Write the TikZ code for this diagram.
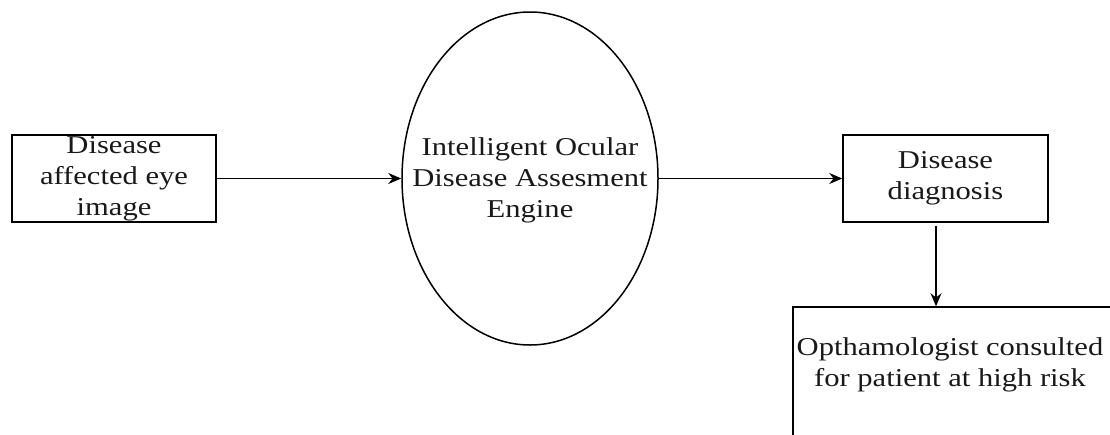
\documentclass[tikz,border=0pt]{standalone}
\usepackage{fontspec}
\setmainfont[FakeStretch=1.19]{Liberation Serif}
\usetikzlibrary{shapes.geometric,arrows.meta,calc}
\begin{document}
\begin{tikzpicture}[x=1pt,y=-1pt,
  txt/.style={font=\fontsize{25.7pt}{31pt}\selectfont, align=center, text=black!90},
  boxnode/.style={draw, line width=1.5pt, inner sep=0pt, txt},
  conn/.style={line width=1.5pt, -{Stealth[length=13pt,width=11pt]}}]
\useasboundingbox (0,0) rectangle (1110,434);
\clip (0,0) rectangle (1110,434);
\node[boxnode, minimum width=204pt, minimum height=87pt] (img) at (114,178.5)
  {Disease\\affected eye\\image};
\node[boxnode, ellipse, minimum width=256pt, minimum height=333pt] (eng) at (530,178.5) {};
\node[txt] (engt) at (530,180) {Intelligent Ocular\\Disease Assesment\\Engine};
\node[boxnode, minimum width=205pt, minimum height=87pt] (diag) at (945.5,178.5)
  {Disease\\diagnosis};
\node[boxnode, minimum width=322pt, minimum height=136pt] (opt) at (954,375) {};
\node[txt] (optt) at (950,365) {Opthamologist consulted\\for patient at high risk};
\draw[conn] (img.east) -- (eng.west);
\draw[conn] (eng.east) -- (diag.west);
\coordinate (d1) at ($(diag.south)+(-9.5,3)$);
\draw[conn] (d1) -- (d1 |- opt.north);
\end{tikzpicture}
\end{document}
